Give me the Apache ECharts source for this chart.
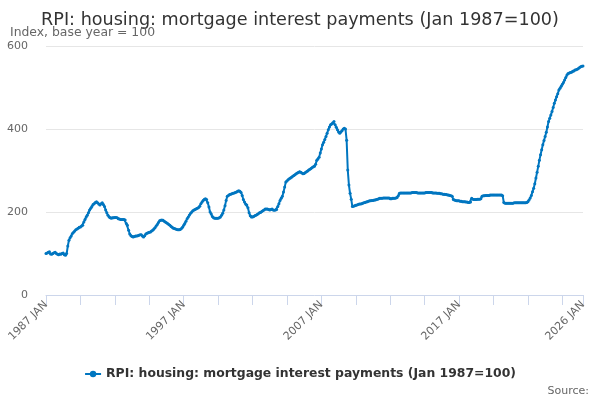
<!DOCTYPE html>
<html>
<head>
<meta charset="utf-8">
<script src="https://cdn.jsdelivr.net/npm/echarts@6/dist/echarts.min.js"></script>
<style>
  html, body { margin: 0; padding: 0; background: #fff; }
  #main { width: 600px; height: 400px; }
</style>
</head>
<body>
<div id="main"></div>
<script>
const title = "RPI: housing: mortgage interest payments (Jan 1987=100)";
const subtitle = "Index, base year = 100";
const seriesName = "RPI: housing: mortgage interest payments (Jan 1987=100)";
const firstYear = 1987;
const monthNames = ["JAN", "FEB", "MAR", "APR", "MAY", "JUN", "JUL", "AUG", "SEP", "OCT", "NOV", "DEC"];
const yTicks = [0, 200, 400, 600];

// monthly values, one row per year
const mip1987to1996 = [
  100, 101, 103, 104, 99, 98, 100, 102, 103, 100, 98, 97,
  99, 98, 100, 101, 97, 96, 100, 118, 132, 138, 142, 148,
  151, 154, 157, 159, 161, 163, 164, 166, 168, 176, 182, 188,
  192, 198, 205, 209, 213, 218, 220, 223, 225, 222, 219, 217,
  220, 222, 218, 213, 205, 198, 192, 188, 186, 185, 186, 186,
  187, 187, 186, 184, 183, 182, 182, 182, 182, 181, 172, 168,
  156, 147, 143, 141, 140, 141, 142, 142, 143, 144, 145, 145,
  142, 140, 143, 147, 149, 150, 151, 152, 154, 156, 159, 162,
  166, 170, 175, 179, 180, 181, 180, 178, 176, 174, 172, 170,
  168, 165, 163, 161, 160, 159, 158, 157, 157, 158, 160, 163
];
const mip1997to2006 = [
  168, 172, 178, 184, 188, 193, 197, 200, 203, 205, 206, 208,
  209, 211, 214, 220, 224, 228, 231, 232, 230, 222, 212, 200,
  195, 189, 186, 185, 185, 185, 185, 186, 188, 192, 197, 205,
  215, 228, 238, 240, 242, 243, 244, 245, 246, 247, 248, 250,
  251, 250, 247, 240, 230, 224, 219, 217, 210, 198, 191, 188,
  188, 189, 191, 192, 194, 196, 198, 199, 201, 203, 205, 207,
  207, 207, 206, 205, 206, 207, 205, 204, 205, 206, 213, 220,
  228, 233, 238, 248, 260, 272, 275, 278, 280, 282, 284, 286,
  288, 290, 292, 294, 295, 297, 296, 294, 292, 293, 295, 297,
  299, 301, 303, 305, 307, 309, 310, 315, 325, 328, 332, 342
];
const mip2007to2016 = [
  352, 362, 368, 375, 382, 390, 398, 405, 410, 412, 415, 418,
  410, 404, 398, 393, 390, 393, 396, 400, 402, 400, 373, 301,
  265, 245, 231, 213, 214, 215, 216, 217, 218, 219, 219, 220,
  221, 222, 223, 224, 225, 226, 227, 227, 228, 228, 229, 229,
  230, 231, 232, 233, 233, 233, 234, 234, 234, 234, 234, 234,
  232, 232, 233, 233, 233, 234, 235, 239, 245, 246, 246, 246,
  246, 246, 246, 246, 246, 246, 246, 247, 247, 247, 247, 247,
  246, 246, 246, 246, 246, 246, 246, 247, 247, 247, 247, 247,
  247, 246, 246, 246, 246, 245, 245, 245, 244, 244, 243, 243,
  242, 242, 241, 241, 240, 239, 238, 230, 229, 228, 227, 227
];
const mip2017to2026 = [
  227, 226, 226, 225, 225, 225, 224, 224, 223, 223, 224, 233,
  231, 230, 230, 230, 231, 231, 231, 232, 238, 239, 239, 240,
  240, 240, 240, 241, 241, 241, 241, 241, 241, 241, 241, 241,
  241, 241, 239, 223, 221, 221, 221, 221, 221, 221, 221, 221,
  222, 222, 222, 222, 222, 222, 222, 222, 222, 222, 222, 223,
  225, 229, 234, 240, 249, 257, 268, 282, 296, 310, 325, 338,
  350, 362, 372, 382, 392, 405, 418, 426, 434, 442, 452, 462,
  470, 478, 485, 494, 498, 503, 508, 512, 518, 524, 530, 534,
  535, 536, 537, 539, 540, 542, 543, 544, 546, 548, 550, 551,
  552
];

const values = [].concat(mip1987to1996, mip1997to2006, mip2007to2016, mip2017to2026);
const months = values.map((v, i) =>
  (firstYear + Math.floor(i / 12)) + " " + monthNames[i % 12]);
const lastIndex = months.length - 1;

function initChart(element) {
  if (!element) return;
  const chart = echarts.init(element, null, { renderer: "canvas" });
  chart.setOption({
    animation: false,
    textStyle: { fontFamily: "DejaVu Sans" },
    title: [
      {
        text: title,
        left: "center",
        top: 6,
        textStyle: { fontSize: 17.6, fontWeight: "normal", color: "#333333" }
      },
      {
        text: subtitle,
        left: 5,
        top: 22,
        textStyle: { fontSize: 12.4, fontWeight: "normal", color: "#666666" }
      },
      {
        text: "Source:",
        right: 6,
        top: 381,
        textStyle: { fontSize: 11, fontWeight: "normal", color: "#666666" }
      }
    ],
    legend: {
      bottom: 15,
      left: "center",
      itemWidth: 16,
      itemHeight: 8,
      textStyle: { fontSize: 12.4, fontWeight: "bold", color: "#333333" },
      data: [seriesName]
    },
    grid: { left: 46, right: 17, top: 46, bottom: 105 },
    xAxis: {
      type: "category",
      boundaryGap: false,
      data: months,
      axisLine: { lineStyle: { color: "#ccd6eb" } },
      axisTick: {
        length: 10,
        lineStyle: { color: "#ccd6eb" },
        interval: (i) => i % 30 === 0 || i === lastIndex
      },
      axisLabel: {
        rotate: 45,
        color: "#666666",
        fontSize: 11,
        margin: 8,
        showMaxLabel: true,
        interval: (i) => i % 120 === 0 || i === lastIndex
      },
      splitLine: { show: false }
    },
    yAxis: {
      type: "value",
      min: yTicks[0],
      max: yTicks[yTicks.length - 1],
      interval: 200,
      axisLine: { show: false },
      axisTick: { show: false },
      axisLabel: { color: "#666666", fontSize: 11, margin: 18 },
      splitLine: { lineStyle: { color: "#e6e6e6" } }
    },
    series: [
      {
        name: seriesName,
        type: "line",
        data: values,
        symbol: "circle",
        symbolSize: 3,
        showAllSymbol: true,
        lineStyle: { color: "#0076c0", width: 2 },
        itemStyle: { color: "#0076c0" }
      }
    ]
  });
  return chart;
}

initChart(document.getElementById("main"));
</script>
</body>
</html>
